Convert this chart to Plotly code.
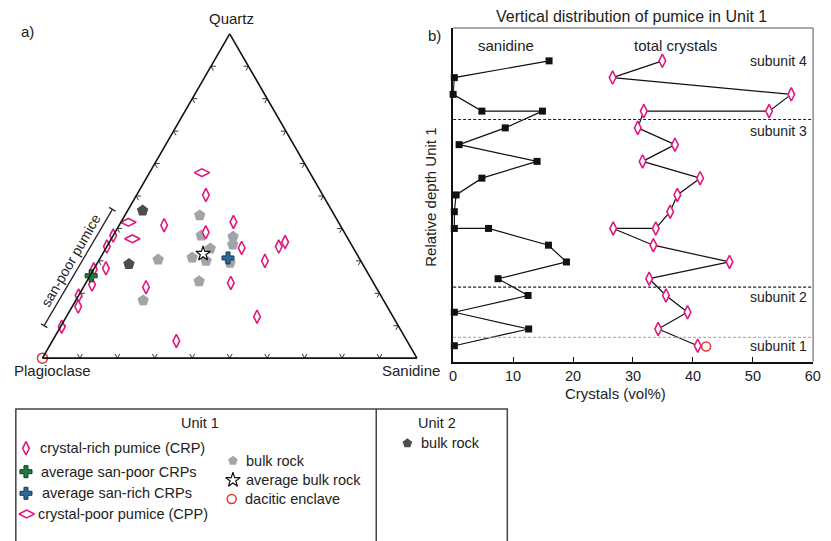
import plotly.graph_objects as go

W, H = 831, 541

# ---------------- Panel a: Q-P-S ternary (vol%) ----------------
crp_q = [50.3, 41.0, 42.0, 38.8, 37.8, 34.4, 34.0, 34.4, 35.8, 30.0, 27.7, 27.4, 22.7, 23.2, 21.9, 19.3, 15.9, 12.8, 9.7, 5.3]
crp_p = [31.2, 47.0, 28.0, 37.0, 62.2, 65.6, 29.8, 19.7, 17.3, 25.6, 69.2, 72.6, 75.4, 38.1, 61.4, 80.7, 82.5, 36.3, 90.0, 61.6]
crp_s = [18.5, 12.0, 30.0, 24.2, 0.0, 0.0, 36.2, 45.9, 46.9, 44.4, 3.1, 0.0, 1.9, 38.7, 16.7, 0.0, 1.6, 50.9, 0.3, 33.1]

cpp_q = [57.2, 41.9, 36.8]
cpp_p = [28.8, 56.1, 57.6]
cpp_s = [14.0, 2.0, 5.6]

bulk1_q = [44.0, 37.8, 37.4, 35.0, 33.8, 31.0, 30.0, 29.4, 30.4, 23.7, 17.8]
bulk1_p = [36.0, 38.7, 30.4, 31.7, 38.3, 44.5, 41.3, 35.2, 53.9, 46.3, 64.2]
bulk1_s = [20.0, 23.5, 32.2, 33.3, 27.9, 24.5, 28.7, 35.4, 15.7, 30.0, 18.0]

bulk2_q = [45.5, 29.0]
bulk2_p = [50.5, 62.4]
bulk2_s = [4.0, 8.6]

avg_bulk = (32.2, 41.0, 26.8)
avg_san_rich = (30.9, 35.0, 34.1)
avg_san_poor = (25.4, 74.3, 0.3)
enclave = (0.0, 100.0, 0.0)

tern_ticks = [10, 20, 30, 40, 50, 60, 70, 80, 90]

# ---------------- Panel b: vertical distribution ----------------
depth_san = [1, 2, 3, 4, 4, 5, 6, 7, 8, 9, 10, 11, 11, 12, 13, 14, 15, 16, 17, 18]
sanidine = [16.0, 0.2, 0.0, 4.8, 14.9, 8.7, 1.0, 14.0, 4.8, 0.5, 0.2, 0.2, 5.9, 15.9, 18.9, 7.5, 12.5, 0.2, 12.6, 0.2]
depth_tot = [1, 2, 3, 4, 4, 5, 6, 7, 8, 9, 10, 11, 11, 12, 13, 14, 15, 16, 17, 18]
total_crystals = [34.9, 26.6, 56.4, 52.7, 31.8, 30.8, 37.0, 31.6, 41.2, 37.4, 36.2, 33.8, 26.7, 33.4, 46.1, 32.7, 35.5, 39.1, 34.2, 40.8]
enclave_depth = [18.05]
enclave_crystals = [42.2]
subunit_bounds = [4.5, 14.5, 17.5]
subunit_names = ["subunit 4", "subunit 3", "subunit 2", "subunit 1"]
x_ticks = [0, 10, 20, 30, 40, 50, 60]

MAG = "#e0187f"
FONT = "Liberation Sans, Arial, sans-serif"
TXT = "#222"

fig = go.Figure()

# ternary tick chevrons
d = 1.3
ta, tb, tc = [], [], []
for t in tern_ticks:
    # bottom edge (Q=0)
    ta += [d, 0, d, None]; tb += [100 - t - d, 100 - t, 100 - t, None]; tc += [t, t, t - d, None]
    # left edge (S=0)
    ta += [t, t, t - d, None]; tb += [100 - t - d, 100 - t, 100 - t, None]; tc += [d, 0, d, None]
    # right edge (P=0)
    ta += [t, t, t - d, None]; tb += [d, 0, d, None]; tc += [100 - t - d, 100 - t, 100 - t, None]
fig.add_trace(go.Scatterternary(a=ta, b=tb, c=tc, mode="lines", line=dict(color="#333", width=1),
                                hoverinfo="skip", connectgaps=False))

def tern(q, p, s, **kw):
    fig.add_trace(go.Scatterternary(a=q, b=p, c=s, mode="markers", cliponaxis=False, **kw))

tern(bulk1_q, bulk1_p, bulk1_s, marker=dict(symbol="pentagon", size=12, color="#a3a4a8", line=dict(width=0)))
tern(bulk2_q, bulk2_p, bulk2_s, marker=dict(symbol="pentagon", size=12, color="#4d4d4f", line=dict(width=0)))
tern(crp_q, crp_p, crp_s, marker=dict(symbol="diamond-tall", size=9.5, color="white", line=dict(color=MAG, width=1.6)))
tern(cpp_q, cpp_p, cpp_s, marker=dict(symbol="diamond-wide", size=11, color="white", line=dict(color=MAG, width=1.6)))
tern([avg_bulk[0]], [avg_bulk[1]], [avg_bulk[2]], marker=dict(symbol="star", size=11, color="white", line=dict(color="#111", width=1.2)))
tern([avg_san_rich[0]], [avg_san_rich[1]], [avg_san_rich[2]], marker=dict(symbol="cross", size=10, color="#2f6a9e", line=dict(color="#1a3552", width=1)))
tern([avg_san_poor[0]], [avg_san_poor[1]], [avg_san_poor[2]], marker=dict(symbol="cross", size=10, color="#237a43", line=dict(color="#0f3d20", width=1)))
tern([enclave[0]], [enclave[1]], [enclave[2]], marker=dict(symbol="circle", size=10, color="white", line=dict(color="#e0382e", width=1.5)))

# panel b traces
fig.add_trace(go.Scatter(x=sanidine, y=depth_san, mode="lines+markers", cliponaxis=False,
                         line=dict(color="#111", width=1.2),
                         marker=dict(symbol="square", size=7, color="#111"), xaxis="x", yaxis="y"))
fig.add_trace(go.Scatter(x=total_crystals, y=depth_tot, mode="lines+markers", cliponaxis=False,
                         line=dict(color="#111", width=1.2),
                         marker=dict(symbol="diamond-tall", size=9.5, color="white", line=dict(color=MAG, width=1.6)),
                         xaxis="x", yaxis="y"))
fig.add_trace(go.Scatter(x=enclave_crystals, y=enclave_depth, mode="markers", cliponaxis=False,
                         marker=dict(symbol="circle-open", size=9, color="#e0382e", line=dict(width=1.5)),
                         xaxis="x", yaxis="y"))

# legend keys (in a pixel-space helper axis)
leg_keys = [
    (22.3, 448.3, dict(symbol="diamond-tall", size=9.5, color="white", line=dict(color=MAG, width=1.6))),
    (22.3, 471.7, dict(symbol="cross", size=10, color="#237a43", line=dict(color="#0f3d20", width=1))),
    (22.3, 493.3, dict(symbol="cross", size=10, color="#2f6a9e", line=dict(color="#1a3552", width=1))),
    (23.0, 514.0, dict(symbol="diamond-wide", size=11, color="white", line=dict(color=MAG, width=1.6))),
    (232.3, 460.7, dict(symbol="pentagon", size=10, color="#a3a4a8", line=dict(width=0))),
    (232.3, 480.0, dict(symbol="star", size=11, color="white", line=dict(color="#111", width=1.2))),
    (231.0, 499.0, dict(symbol="circle", size=9, color="white", line=dict(color="#e0382e", width=1.5))),
    (409.3, 443.3, dict(symbol="pentagon", size=10, color="#4d4d4f", line=dict(width=0))),
]
for kx, ky, mk in leg_keys:
    fig.add_trace(go.Scatter(x=[kx], y=[ky], mode="markers", marker=mk, cliponaxis=False,
                             xaxis="x2", yaxis="y2", hoverinfo="skip"))

def px(x):
    return x / W

def py(y):
    return 1 - y / H

def ann(text, x, y, size=15, xanchor="center", angle=0, color=TXT):
    return dict(text=text, x=px(x), y=py(y), xref="paper", yref="paper", showarrow=False,
                xanchor=xanchor, yanchor="middle", textangle=angle,
                font=dict(size=size, color=color, family=FONT))

annotations = [
    ann("a)", 24, 32),
    ann("b)", 437, 35),
    ann("Quartz", 231, 18.5),
    ann("Plagioclase", 49.7, 370),
    ann("Sanidine", 413, 370),
    ann("san-poor pumice", 67.5, 261, size=14, angle=-60),
    ann("Vertical distribution of pumice in Unit 1", 637, 17, size=16),
    ann("sanidine", 509, 46),
    ann("total crystals", 681.7, 46),
    ann("Relative depth Unit 1", 433, 197, angle=-90),
    ann("Crystals (vol%)", 620, 393.3),
    ann("Unit 1", 199, 423, size=14.5),
    ann("Unit 2", 439.3, 423, size=14.5),
    ann("crystal-rich pumice (CRP)", 34.5, 448.3, size=14.5, xanchor="left"),
    ann("average san-poor CRPs", 35.5, 471.7, size=14.5, xanchor="left"),
    ann("average san-rich CRPs", 37, 493.3, size=14.5, xanchor="left"),
    ann("crystal-poor pumice (CPP)", 32, 514, size=14.5, xanchor="left"),
    ann("bulk rock", 244, 460.7, size=14.5, xanchor="left"),
    ann("average bulk rock", 243.7, 480, size=14.5, xanchor="left"),
    ann("dacitic enclave", 243, 499, size=14.5, xanchor="left"),
    ann("bulk rock", 420.7, 443.3, size=14.5, xanchor="left"),
]
sub_y = [60.7, 131, 297.3, 346]
for name, yy in zip(subunit_names, sub_y):
    annotations.append(ann(name, 817, yy, size=14, xanchor="right"))

shapes = []
# panel b: gray top/right frame lines
shapes.append(dict(type="line", xref="paper", yref="paper", x0=px(455.7), x1=px(821), y0=py(28), y1=py(28),
                   line=dict(color="#8c8c8c", width=1.5)))
shapes.append(dict(type="line", xref="paper", yref="paper", x0=px(821), x1=px(821), y0=py(28), y1=py(361.5),
                   line=dict(color="#8c8c8c", width=1.5)))
# subunit boundaries
for yb, col in zip(subunit_bounds, ["#222", "#222", "#b0b0b0"]):
    shapes.append(dict(type="line", xref="x domain", yref="y", x0=0, x1=1, y0=yb, y1=yb,
                       line=dict(color=col, width=1.2, dash="3px,2px")))
# san-poor bracket
bx0, by0, bx1, by1 = 40.7, 325.7, 110.0, 209.3
shapes.append(dict(type="line", xref="paper", yref="paper", x0=px(bx0), y0=py(by0), x1=px(bx1), y1=py(by1),
                   line=dict(color="#222", width=1.3)))
for cx, cy in [(bx0, by0), (bx1, by1)]:
    shapes.append(dict(type="line", xref="paper", yref="paper",
                       x0=px(cx - 3.8 * 0.866), y0=py(cy - 3.8 * 0.5),
                       x1=px(cx + 3.8 * 0.866), y1=py(cy + 3.8 * 0.5),
                       line=dict(color="#222", width=1.3)))
# legend box
shapes.append(dict(type="rect", xref="paper", yref="paper", x0=px(12), x1=px(510.7), y0=py(409), y1=-0.02,
                   line=dict(color="#444", width=1.5)))
shapes.append(dict(type="line", xref="paper", yref="paper", x0=px(377.7), x1=px(377.7), y0=py(409), y1=-0.02,
                   line=dict(color="#444", width=1.5)))

tax = dict(showline=True, linecolor="#111", linewidth=1.6, showgrid=False, showticklabels=False,
           ticks="", title=dict(text=""), min=0)

fig.update_layout(
    width=W, height=H, margin=dict(l=0, r=0, t=0, b=0),
    paper_bgcolor="white", plot_bgcolor="rgba(0,0,0,0)", showlegend=False,
    font=dict(family=FONT, size=15, color=TXT),
    ternary=dict(domain=dict(x=[px(39), px(419)], y=[py(360), py(32)]), sum=100, bgcolor="white",
                 aaxis=tax, baxis=tax, caxis=tax),
    xaxis=dict(domain=[px(455.7), px(820.7)], range=[0, 60], tickvals=x_ticks, ticks="inside", ticklen=5,
               tickcolor="#111", showline=True, linecolor="#111", linewidth=1.5, showgrid=False,
               zeroline=False, tickfont=dict(size=14.5, color=TXT), anchor="y"),
    yaxis=dict(domain=[py(361.5), py(28)], range=[18.94, -0.96], showline=True, linecolor="#111",
               linewidth=1.5, showticklabels=False, ticks="", showgrid=False, zeroline=False, anchor="x"),
    xaxis2=dict(domain=[0, 1], range=[0, W], visible=False, anchor="y2"),
    yaxis2=dict(domain=[0, 146 / H], range=[541, 395], visible=False, anchor="x2"),
    annotations=annotations, shapes=shapes,
)

fig.write_html("out.html")
